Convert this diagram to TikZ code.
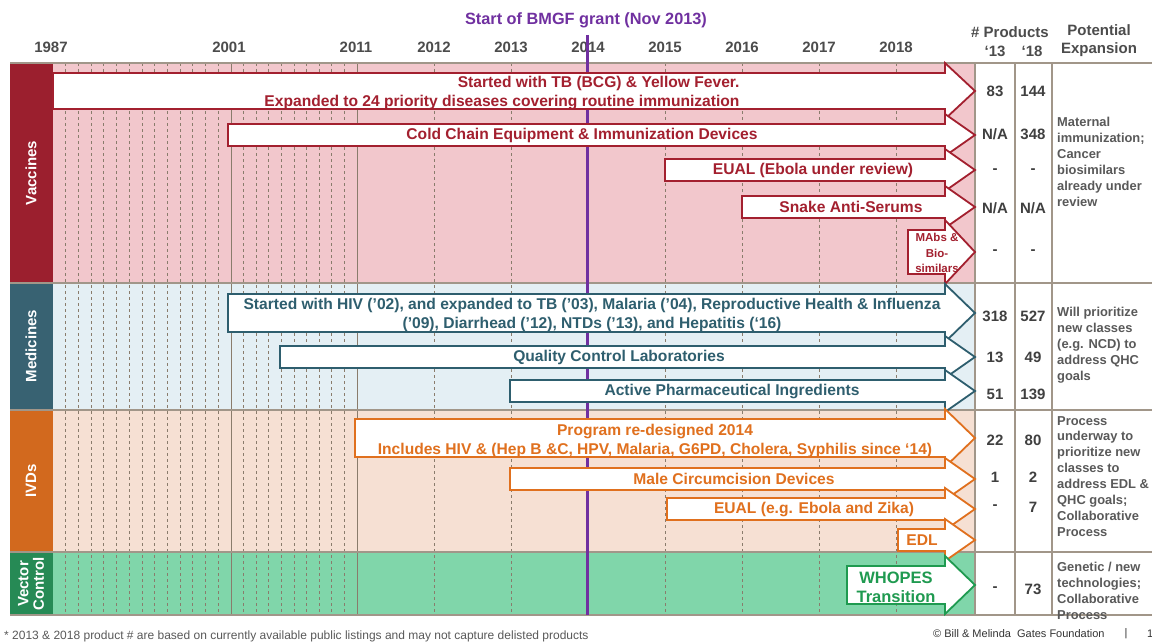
\documentclass[tikz,border=0pt]{standalone}
\usepackage{fontspec}
\setmainfont{Liberation Sans}
\usetikzlibrary{positioning}

\definecolor{vacred}{HTML}{A3202F}
\definecolor{vacband}{HTML}{9B1F2E}
\definecolor{vacbg}{HTML}{F2C7CC}
\definecolor{medteal}{HTML}{2E5E6E}
\definecolor{medband}{HTML}{386272}
\definecolor{medbg}{HTML}{E4EFF4}
\definecolor{ivdorange}{HTML}{E0701E}
\definecolor{ivdband}{HTML}{D2691E}
\definecolor{ivdbg}{HTML}{F6E0D3}
\definecolor{vecgreen}{HTML}{1F9A50}
\definecolor{vecband}{HTML}{268A55}
\definecolor{vecbg}{HTML}{80D6AA}
\definecolor{bmgfpurple}{HTML}{7030A0}
\definecolor{gridgray}{HTML}{8A7C6C}
\definecolor{textgray}{HTML}{595959}

% arrow body from x=#2 to the common head at x=945..975
\newcommand{\prodarrow}[4]{%
  \draw[#1] (#2,#3-#4) -- (945,#3-#4) -- (945,#3-#4-10) -- (975,#3)
    -- (945,#3+#4+10) -- (945,#3+#4) -- (#2,#3+#4) -- cycle;}

\begin{document}
\begin{tikzpicture}[x=1pt,y=-1pt]
  \useasboundingbox (0,0) rectangle (1152,642);
  \fill[white] (0,0) rectangle (1152,642);

  % Define styles
  \tikzstyle{catlabel}=[text=white, rotate=90, align=center, font=\fontsize{15}{15.5}\selectfont\bfseries]
  \tikzstyle{yearlabel}=[text=black!70, font=\fontsize{15}{16}\selectfont\bfseries]
  \tikzstyle{gridline}=[gridgray, line width=0.8pt, dash pattern=on 3pt off 3pt]
  \tikzstyle{yearline}=[gridgray, line width=1pt]
  \tikzstyle{border}=[gridgray!80, line width=1.5pt]
  \tikzstyle{arrowbox}=[fill=white, line width=1.8pt, line join=miter]
  \tikzstyle{arrowtext}=[align=center, inner sep=0pt, font=\fontsize{15.6}{19}\selectfont\bfseries]
  \tikzstyle{num}=[text=black!75, font=\fontsize{15}{16}\selectfont\bfseries]
  \tikzstyle{expand}=[anchor=north west, align=left, inner sep=0pt, text=textgray, font=\fontsize{12.9}{15.9}\selectfont\bfseries]

  % Backgrounds of the four rows
  \fill[vacbg] (53,63) rectangle (975,283);
  \fill[medbg] (53,283) rectangle (975,410);
  \fill[ivdbg] (53,410) rectangle (975,552);
  \fill[vecbg] (53,552) rectangle (975,615);

  % Category bands
  \fill[vacband] (10,63) rectangle (53,283);
  \fill[medband] (10,283) rectangle (53,410);
  \fill[ivdband] (10,410) rectangle (53,552);
  \fill[vecband] (10,552) rectangle (53,615);
  \node[catlabel] (vaccines) at (31,173) {Vaccines};
  \node[catlabel] (medicines) at (31,346) {Medicines};
  \node[catlabel] (ivds) at (31,481) {IVDs};
  \node[catlabel] (vector) at (31,584) {Vector\\Control};

  % Year grid
  \foreach \i in {1,...,13}
    \draw[gridline] ({53+\i*178/14},63) -- ({53+\i*178/14},615);
  \foreach \i in {1,...,9}
    \draw[gridline] ({231+\i*12.6},63) -- ({231+\i*12.6},615);
  \foreach \x in {434,511,665,742,819,896}
    \draw[gridline] (\x,63) -- (\x,615);
  \draw[yearline] (231,63) -- (231,615);
  \draw[yearline] (357,63) -- (357,615);

  % Year labels
  \foreach \x/\yr in {51/1987,229/2001,356/2011,434/2012,511/2013,588/2014,665/2015,742/2016,819/2017,896/2018}
    \node[yearlabel] (y\yr) at (\x,47) {\yr};

  % Table borders
  \foreach \y in {63,283,410,552,615}
    \draw[border] (10,\y) -- (1152,\y);
  \foreach \x in {975,1015,1052}
    \draw[border] (\x,63) -- (\x,615);

  % Start of the grant
  \coordinate (granttop) at (587,35);
  \coordinate (grantbot) at (587,615);
  \draw[bmgfpurple, line width=3pt] (granttop) -- (grantbot);
  \node[text=bmgfpurple, font=\fontsize{16.3}{18}\selectfont\bfseries] (grant) at (586,20) {Start of BMGF grant (Nov 2013)};

  % Header of the right columns
  \node[yearlabel] (products) at (1010,32) {\# Products};
  \node[yearlabel] (p13) at (995,51) {‘13};
  \node[yearlabel] (p18) at (1032,51) {‘18};
  \node[yearlabel] (potential) at (1099,30) {Potential};
  \node[yearlabel] (expansion) at (1099,50) {Expansion};

  % Vaccines
  \prodarrow{arrowbox, draw=vacred}{53}{91}{18}
  \node[arrowtext, text=vacred, align=right] (tb) at (502,93) {Started with TB (BCG) \& Yellow Fever.\\Expanded to 24 priority diseases covering routine immunization};
  \prodarrow{arrowbox, draw=vacred}{228}{135}{11}
  \node[arrowtext, text=vacred] (coldchain) at (582,135) {Cold Chain Equipment \& Immunization Devices};
  \prodarrow{arrowbox, draw=vacred}{665}{170}{11}
  \node[arrowtext, text=vacred] (vaceual) at (813,170) {EUAL (Ebola under review)};
  \prodarrow{arrowbox, draw=vacred}{742}{207}{11}
  \node[arrowtext, text=vacred] (snake) at (851,207) {Snake Anti-Serums};
  \prodarrow{arrowbox, draw=vacred}{908}{252}{22}
  \node[arrowtext, text=vacred, font=\fontsize{11.5}{15.5}\selectfont\bfseries] (mabs) at (937,253) {MAbs \&\\Bio-\\similars};

  % Medicines
  \prodarrow{arrowbox, draw=medteal}{228}{313}{19}
  \node[arrowtext, text=medteal] (hiv) at (592,315) {Started with HIV (’02), and expanded to TB (’03), Malaria (’04), Reproductive Health \& Influenza\\(’09), Diarrhead (’12), NTDs (’13), and Hepatitis (‘16)};
  \prodarrow{arrowbox, draw=medteal}{280}{357}{11}
  \node[arrowtext, text=medteal] (qcl) at (619,357) {Quality Control Laboratories};
  \prodarrow{arrowbox, draw=medteal}{510}{391}{11}
  \node[arrowtext, text=medteal] (api) at (732,391) {Active Pharmaceutical Ingredients};

  % IVDs
  \prodarrow{arrowbox, draw=ivdorange}{355}{438}{19}
  \node[arrowtext, text=ivdorange] (redesign) at (655,441) {Program re-designed 2014\\Includes HIV \& (Hep B \&C, HPV, Malaria, G6PD, Cholera, Syphilis since ‘14)};
  \prodarrow{arrowbox, draw=ivdorange}{510}{479}{11}
  \node[arrowtext, text=ivdorange] (circ) at (734,479) {Male Circumcision Devices};
  \prodarrow{arrowbox, draw=ivdorange}{667}{509}{11}
  \node[arrowtext, text=ivdorange] (ivdeual) at (814,509) {EUAL (e.g. Ebola and Zika)};
  \prodarrow{arrowbox, draw=ivdorange}{898}{540}{11}
  \node[arrowtext, text=ivdorange] (edl) at (922,540) {EDL};

  % Vector control
  \prodarrow{arrowbox, draw=vecgreen}{847}{585}{19}
  \node[arrowtext, text=vecgreen, font=\fontsize{16.5}{19}\selectfont\bfseries] (whopes) at (896,587) {WHOPES\\Transition};

  % Product counts
  \foreach \y/\a/\b in {91/83/144, 134/N\slash A/348, 171/-/-, 208/N\slash A/N\slash A, 252/-/-,
                        316/318/527, 357/13/49, 394/51/139,
                        440/22/80, 477/1/2, 507/-/7, 589/-/73}{
    \node[num] at (995,\y) {\a};
    \node[num] at (1033,\y) {\b};
  }

  % Potential expansion
  \node[expand] (vacexp) at (1057,117) {Maternal\\immunization;\\Cancer\\biosimilars\\already under\\review};
  \node[expand] (medexp) at (1057,307) {Will prioritize\\new classes\\(e.g. NCD) to\\address QHC\\goals};
  \node[expand] (ivdexp) at (1057,416) {Process\\underway to\\prioritize new\\classes to\\address EDL \&\\QHC goals;\\Collaborative\\Process};
  \node[expand] (vecexp) at (1057,562) {Genetic / new\\technologies;\\Collaborative\\Process};

  % Footer
  \node[anchor=west, inner sep=0pt, text=textgray, font=\fontsize{12}{13}\selectfont] (note) at (4,636) {* 2013 \& 2018 product \# are based on currently available public listings and may not capture delisted products};
  \node[anchor=west, inner sep=0pt, text=black!80, font=\fontsize{11}{12}\selectfont] (copy) at (933,634) {© Bill \& Melinda~ Gates Foundation};
  \node[inner sep=0pt, text=black!80, font=\fontsize{11}{12}\selectfont] (bar) at (1126,634) {|};
  \node[anchor=west, inner sep=0pt, text=black!80, font=\fontsize{11}{12}\selectfont] (page) at (1147,634) {1};
\end{tikzpicture}
\end{document}
